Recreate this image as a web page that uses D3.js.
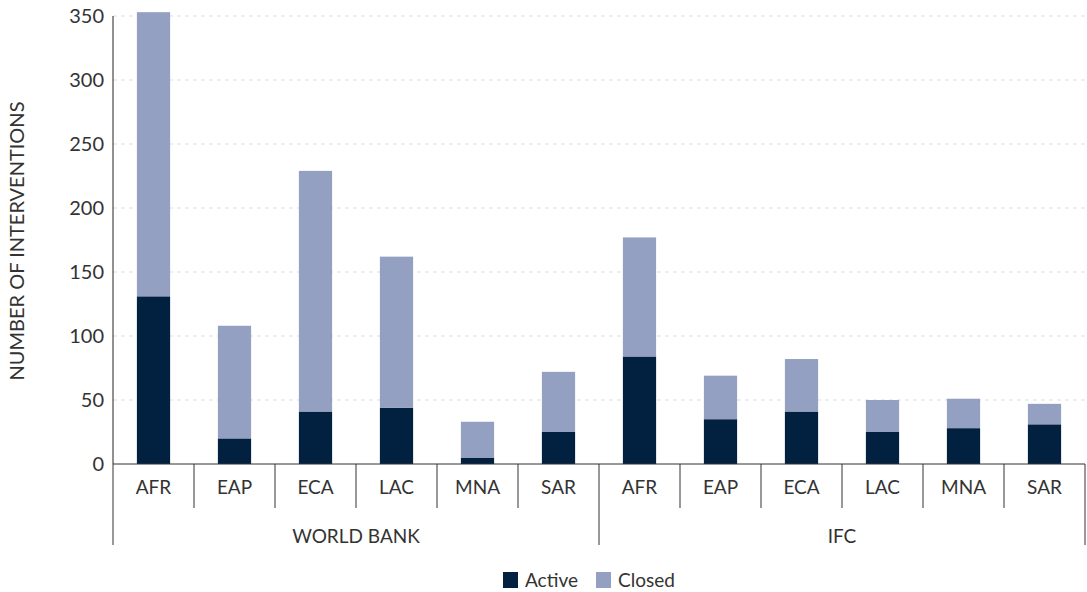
<!DOCTYPE html>
<html>
<head>
<meta charset="utf-8">
<script src="https://cdn.jsdelivr.net/npm/d3@7"></script>
<style>
  body { margin: 0; background: #fff; }
  text { font-family: Lato, "Open Sans", sans-serif; fill: #333; }
  .grid line { stroke: #ddd; stroke-dasharray: 4,4; }
</style>
</head>
<body>
<div id="content"></div>
<script>
  // data
  var groups = ["WORLD BANK", "IFC"];
  var regions = ["AFR", "EAP", "ECA", "LAC", "MNA", "SAR"];
  var activeWB = [131, 20, 41, 44, 5, 25];
  var closedWB = [222, 88, 188, 118, 28, 47];
  var activeIFC = [84, 35, 41, 25, 28, 31];
  var closedIFC = [93, 34, 41, 25, 23, 16];
  var yTicks = [0, 50, 100, 150, 200, 250, 300, 350];
  var seriesNames = ["Active", "Closed"];
  var colors = ["#02203f", "#93a0c1"];

  var width = 1087, height = 592;
  var margin = {left: 113, right: 2, top: 16, bottom: 128};

  var rows = [];
  groups.forEach(function(g, gi) {
    var act = gi == 0 ? activeWB : activeIFC;
    var clo = gi == 0 ? closedWB : closedIFC;
    regions.forEach(function(r, i) {
      rows.push({key: g + "|" + r, group: g, region: r, Active: act[i], Closed: clo[i]});
    });
  });

  var svg = d3.select("#content").append("svg")
      .attr("width", width).attr("height", height);

  var x = d3.scaleBand()
      .domain(rows.map(function(d) { return d.key; }))
      .range([margin.left, width - margin.right])
      .paddingInner(0).paddingOuter(0);

  var y = d3.scaleLinear()
      .domain([0, 350])
      .range([height - margin.bottom, margin.top]);

  var y0 = y(0);

  // gridlines
  svg.append("g").attr("class", "grid")
    .selectAll("line")
    .data(yTicks.slice(1))
    .enter().append("line")
      .attr("x1", margin.left).attr("x2", width - margin.right)
      .attr("y1", function(d) { return y(d); })
      .attr("y2", function(d) { return y(d); });

  // stacked bars
  var stack = d3.stack().keys(seriesNames)(rows);
  var barW = x.bandwidth() * 0.41;
  svg.append("g").selectAll("g")
    .data(stack)
    .enter().append("g")
      .attr("fill", function(d, i) { return colors[i]; })
    .selectAll("rect")
    .data(function(d) { return d; })
    .enter().append("rect")
      .attr("x", function(d) { return x(d.data.key) + (x.bandwidth() - barW) / 2; })
      .attr("width", barW)
      .attr("y", function(d) { return y(d[1]); })
      .attr("height", function(d) { return y(d[0]) - y(d[1]); });

  // y axis
  var yAxis = svg.append("g")
      .attr("transform", "translate(" + margin.left + ",0)")
      .call(d3.axisLeft(y).tickValues(yTicks).tickSize(0).tickPadding(9));
  yAxis.select(".domain").attr("stroke", "#222").attr("d", "M0," + y(350) + "V" + y0);
  yAxis.selectAll("text").style("font-size", "20px").attr("fill", "#333");

  svg.append("text")
      .attr("transform", "translate(24," + ((margin.top + y0) / 2 + 1) + ") rotate(-90)")
      .attr("text-anchor", "middle")
      .style("font-size", "20px")
      .text("NUMBER OF INTERVENTIONS");

  // x axis, categories
  var xAxis = svg.append("g")
      .attr("transform", "translate(0," + y0 + ")")
      .call(d3.axisBottom(x).tickSize(0).tickPadding(17)
        .tickFormat(function(k) { return k.split("|")[1]; }));
  xAxis.select(".domain").attr("stroke", "#333").attr("d", "M" + margin.left + ",0H" + (width - margin.right));
  xAxis.selectAll("text").style("font-size", "19px").attr("fill", "#333");

  // separators between categories
  var edges = rows.map(function(d) { return x(d.key); }).concat([width - margin.right]);
  svg.append("g").selectAll("line")
    .data(edges)
    .enter().append("line")
      .attr("x1", function(d) { return d; }).attr("x2", function(d) { return d; })
      .attr("y1", y0)
      .attr("y2", function(d, i) { return (i % 6 == 0) ? y0 + 81 : y0 + 44; })
      .attr("stroke", "#333");

  // group labels
  svg.append("g").selectAll("text")
    .data(groups)
    .enter().append("text")
      .attr("x", function(g, gi) {
        var a = x(g + "|" + regions[0]);
        var b = x(g + "|" + regions[regions.length - 1]) + x.bandwidth();
        return (a + b) / 2;
      })
      .attr("y", y0 + 79)
      .attr("text-anchor", "middle")
      .style("font-size", "19px")
      .text(function(g) { return g; });

  // legend
  var legend = svg.append("g").attr("transform", "translate(503,572)");
  var offs = [0, 93];
  var item = legend.selectAll("g")
    .data(seriesNames)
    .enter().append("g")
      .attr("transform", function(d, i) { return "translate(" + offs[i] + ",0)"; });
  item.append("rect")
      .attr("width", 15).attr("height", 16)
      .attr("fill", function(d, i) { return colors[i]; });
  item.append("text")
      .attr("x", 22).attr("y", 15)
      .style("font-size", "19px")
      .text(function(d) { return d; });
</script>
</body>
</html>
